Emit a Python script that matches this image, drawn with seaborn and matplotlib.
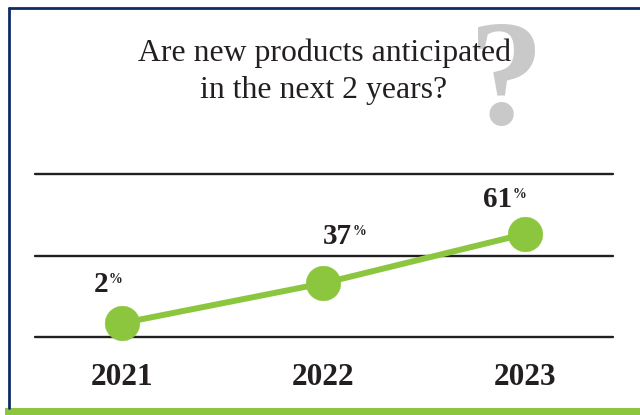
import numpy as np
import pandas as pd
import matplotlib
matplotlib.use("Agg")
import matplotlib.pyplot as plt
from matplotlib.lines import Line2D
from matplotlib.patches import Rectangle
import seaborn as sns

# Survey results
years = ["2021", "2022", "2023"]
percent_yes = [2, 37, 61]

# Rule positions on the value axis
rule_levels = [-18.7, 51, 84]

GREEN = "#8cc63f"
NAVY = "#0f2a66"
INK = "#231f20"
GREY = "#c9c9c9"
W, H = 640, 415

sns.set_theme(style="white")
plt.rcParams["font.family"] = ["Liberation Serif", "DejaVu Serif"]

fig = plt.figure(figsize=(W / 100, H / 100), dpi=100, facecolor="white")


def fx(px):
    return px / W


def fy(py):
    return 1 - py / H


# Outer frame: navy left and top edges, green band along the bottom
fig.add_artist(Line2D([fx(8.5), fx(8.5)], [fy(8.5), fy(408)], color=NAVY, lw=2.0))
fig.add_artist(Line2D([fx(8.5), 1], [fy(8.5), fy(8.5)], color=NAVY, lw=2.0))
fig.add_artist(Rectangle((fx(5), 0), 1 - fx(5), fy(408),
                         transform=fig.transFigure, color=GREEN, lw=0))

# Faint question mark sits behind the title
fig.text(fx(506), fy(124), "?", fontsize=108, fontweight="bold", color=GREY,
         ha="center", va="baseline", zorder=1)
fig.text(fx(324.5), fy(61), "Are new products anticipated", fontsize=22.9,
         color=INK, ha="center", va="baseline", zorder=3)
fig.text(fx(324), fy(98), "in the next 2 years?", fontsize=22.9,
         color=INK, ha="center", va="baseline", zorder=3)

ax = fig.add_axes([fx(35), fy(337), fx(613 - 35), fy(174) - fy(337)], zorder=2)
ax.patch.set_alpha(0)

# The value axis is compressed towards the low end with a power scale
ax.set_yscale("function",
              functions=(lambda v: np.sign(v) * np.abs(v) ** 1.6,
                         lambda t: np.sign(t) * np.abs(t) ** (1 / 1.6)))

df = pd.DataFrame({"year": years, "percent": percent_yes})
df["pos"] = np.arange(len(df))

sns.lineplot(data=df, x="pos", y="percent", ax=ax, color=GREEN, lw=4.3,
             marker="o", markersize=25, markeredgewidth=0.3,
             markeredgecolor=GREEN, clip_on=False, zorder=4, errorbar=None)

ax.set_xlim(-0.432, 2.437)
ax.set_ylim(rule_levels[0], rule_levels[-1])
for level in rule_levels:
    ax.axhline(level, color=INK, lw=1.7, clip_on=False, zorder=2)

for side in ax.spines.values():
    side.set_visible(False)
ax.set_xlabel("")
ax.set_ylabel("")
ax.set_yticks([])
ax.set_xticks(df["pos"], years)
ax.tick_params(axis="x", length=0, pad=18.5)
for tick in ax.get_xticklabels():
    tick.set_fontsize(22.5)
    tick.set_fontweight("bold")
    tick.set_color(INK)

# Value labels: number with a small raised percent sign, offset from each marker
label_offsets = [(-14, 31), (28, 39), (-13, 27)]
for pos, val, (dx, dy) in zip(df["pos"], df["percent"], label_offsets):
    ax.annotate(str(val), (pos, val), xytext=(dx * 0.72, dy * 0.72),
                textcoords="offset points", ha="right", va="baseline",
                fontsize=21, fontweight="bold", color=INK, annotation_clip=False)
    ax.annotate("%", (pos, val), xytext=((dx + 1) * 0.72, (dy + 9) * 0.72),
                textcoords="offset points", ha="left", va="baseline",
                fontsize=10, fontweight="bold", color=INK, annotation_clip=False)

fig.savefig("out.png", dpi=100)
